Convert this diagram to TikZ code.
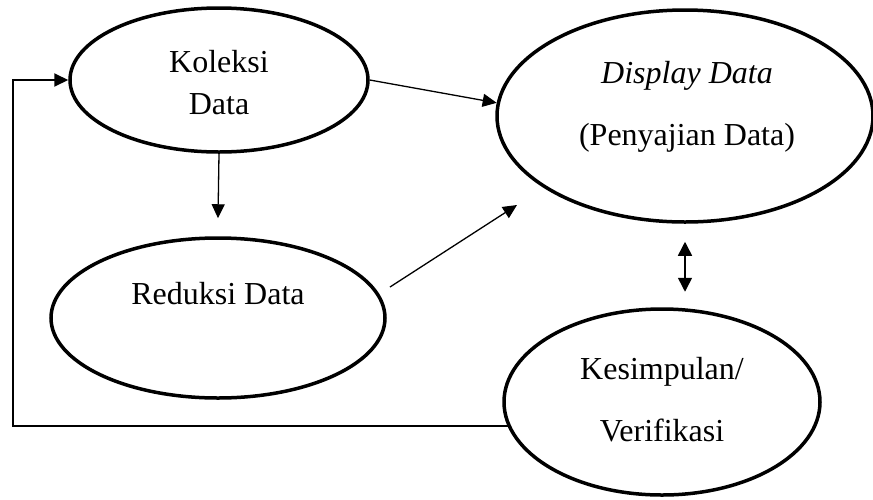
\documentclass[tikz,border=0pt]{standalone}
\usepackage{fontspec}
\setmainfont{Liberation Serif}
\usetikzlibrary{shapes.geometric, arrows.meta, calc}

\tikzset{
  stage/.style={draw, ellipse, line width=3.5pt, inner sep=0pt},
  txt/.style={align=center, font=\fontsize{32}{38}\selectfont},
  flow/.style={-{Triangle[length=14pt,width=13pt]}, line width=1.3pt},
}

\begin{document}
\begin{tikzpicture}[x=1pt,y=-1pt]
\useasboundingbox (0,0) rectangle (873,499);
% the four stages
\node[stage,minimum width=298pt,minimum height=144pt] (koleksi) at (219,80) {};
\node[stage,minimum width=376pt,minimum height=212pt] (display) at (685,116) {};
\node[stage,minimum width=334pt,minimum height=160pt] (reduksi) at (218,318) {};
\node[stage,minimum width=316pt,minimum height=186pt] (kesimpulan) at (662,402) {};
% their texts
\node[txt] (koleksi-txt) at (219,83) {Koleksi\\[4pt] Data};
\node[txt] (display-txt) at (687,107) {\textit{Display Data}\\[24pt] (Penyajian Data)};
\node[txt] (reduksi-txt) at (218,294) {Reduksi Data};
\node[txt] (kesimpulan-txt) at (662,400) {Kesimpulan/\\[24pt] Verifikasi};
% arrows
\coordinate (r2d-a) at (390,287);
\coordinate (r2d-b) at (517,205);
\coordinate (loop) at (13,80);
\draw[flow] (koleksi.east) -- (display.176);
\draw[flow] (koleksi.south) -- ([yshift=18pt]reduksi.north);
\draw[flow] (r2d-a) -- (r2d-b);
\draw[{Triangle[length=14pt,width=14pt]}-{Triangle[length=14pt,width=14pt]},line width=1.5pt]
  ([yshift=-18pt]display.south) -- ([yshift=-68pt]display.south);
\draw[flow,line width=2pt] (kesimpulan.189) -| (loop) -- (koleksi.west);
\end{tikzpicture}
\end{document}
